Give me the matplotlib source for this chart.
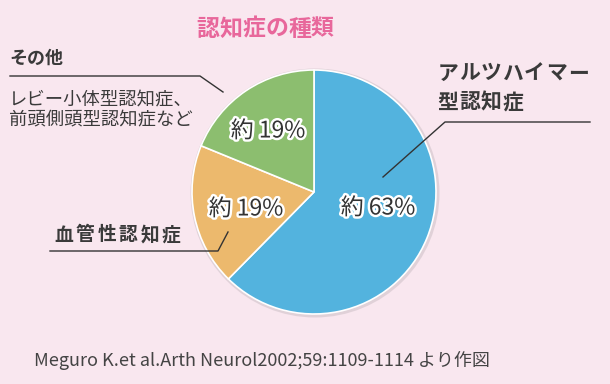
import matplotlib.pyplot as plt
import matplotlib.patheffects as pe
from matplotlib.patches import Circle

plt.rcParams['font.family'] = ['Noto Sans CJK JP', 'DejaVu Sans']

# data
categories = ['アルツハイマー型認知症', '血管性認知症', 'その他']
shares = [63, 19, 19]
pct_labels = ['約 63%', '約 19%', '約 19%']
colors = ['#53b3de', '#ecb96d', '#8cbe6f']
title = '認知症の種類'
other_note = ['レビー小体型認知症、', '前頭側頭型認知症など']
source = 'Meguro K.et al.Arth Neurol2002;59:1109-1114 より作図'

W, H = 610, 384
BG = '#f9e7ef'
TXT = '#3a3a3a'


def Y(y):
    # pixel row (from top) -> data y
    return H - y


def spaced(ax, x0, y, s, step, **kw):
    """draw string char by char with fixed pitch (letter spacing)"""
    for i, ch in enumerate(s):
        ax.text(x0 + step * (i + 0.5), Y(y), ch, ha='center', va='center', **kw)


fig = plt.figure(figsize=(W / 100, H / 100), dpi=100, facecolor=BG)
ax = fig.add_axes([0, 0, 1, 1])
ax.set_facecolor(BG)

cx, cy, r = 314, 192, 122

# soft shadow round the pie
ax.add_patch(Circle((cx + 1, Y(cy) - 1), r + 2.5, color='#c9bcc3', alpha=0.5, lw=0, zorder=0))

wedges, _ = ax.pie(shares, colors=colors, startangle=90, counterclock=False,
                   center=(cx, Y(cy)), radius=r,
                   wedgeprops=dict(edgecolor='white', linewidth=1.2))

ax.set_xlim(0, W)
ax.set_ylim(0, H)
ax.set_aspect('equal')
ax.axis('off')

# percent labels
stroke = [pe.withStroke(linewidth=3.5, foreground='white')]
pct_pos = [(378, 208), (246, 209), (268, 131)]
for lab, (px, py) in zip(pct_labels, pct_pos):
    ax.text(px, Y(py), lab, ha='center', va='center', fontsize=16.5,
            color='#333333', path_effects=stroke)

# title
spaced(ax, 196, 29, title, 23, fontsize=16.5, fontweight='bold', color='#e8679b')

# Alzheimer label
spaced(ax, 437, 73, 'アルツハイマー', 21.7, fontsize=15, fontweight='bold', color=TXT)
spaced(ax, 437, 102, '型認知症', 21.7, fontsize=15, fontweight='bold', color=TXT)
ax.plot([590, 445, 383], [Y(122), Y(122), Y(177)], color='#333333', lw=1)

# vascular label
spaced(ax, 53, 235, '血管性認知症', 21.5, fontsize=13.5, fontweight='bold', color=TXT)
ax.plot([50, 218, 228], [Y(251), Y(251), Y(232)], color='#333333', lw=1)

# other label
spaced(ax, 10, 58, 'その他', 17.5, fontsize=13, fontweight='bold', color=TXT)
ax.plot([10, 200, 223], [Y(76), Y(76), Y(92)], color='#333333', lw=1)
for i, line in enumerate(other_note):
    ax.text(9, Y(100 + i * 20), line, ha='left', va='center', fontsize=13.2, color=TXT)

# source
ax.text(262, Y(360), source, ha='center', va='center', fontsize=13, color='#444444')

fig.savefig('out.png', dpi=100, facecolor=BG)
